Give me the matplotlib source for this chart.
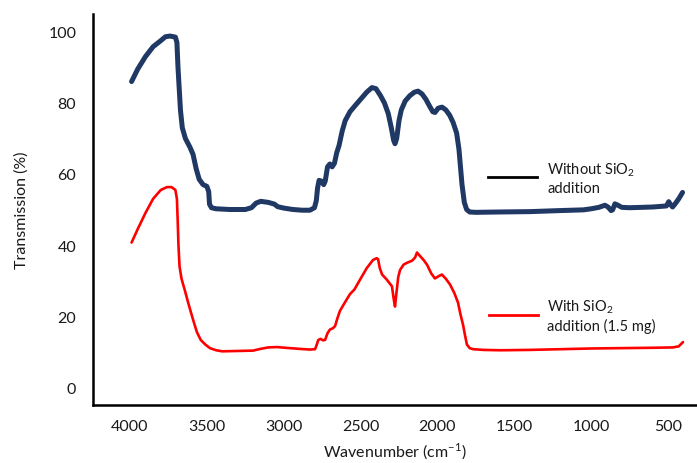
import matplotlib
matplotlib.use("Agg")
import matplotlib.pyplot as plt

plt.rcParams['font.family'] = ['Lato', 'DejaVu Sans']
plt.rcParams['mathtext.fontset'] = 'custom'
plt.rcParams['mathtext.rm'] = 'Lato'

# Widmo bez dodatku SiO2 (liczba falowa, transmisja)
bez_wn = [3990, 3950, 3900, 3850, 3800, 3770, 3740, 3705, 3695, 3688, 3680, 3672,
          3660, 3640, 3610, 3590, 3570, 3550, 3525, 3500, 3488, 3483, 3470, 3440,
          3350, 3250, 3210, 3180, 3150, 3100, 3060, 3040, 3000, 2940, 2880, 2830,
          2800, 2788, 2780, 2770, 2755, 2740, 2730, 2715, 2700, 2685, 2670, 2655,
          2640, 2620, 2600, 2569, 2530, 2500, 2460, 2426, 2400, 2370, 2345, 2320,
          2300, 2285, 2276, 2265, 2250, 2235, 2210, 2180, 2150, 2126, 2100, 2075,
          2050, 2030, 2016, 1995, 1970, 1945, 1920, 1898, 1875, 1860, 1850, 1840,
          1825, 1810, 1790, 1750, 1600, 1400, 1200, 1050, 1000, 950, 910, 890,
          870, 860, 845, 830, 800, 750, 600, 510, 495, 485, 470, 455, 430, 405]
bez_T = [86, 89.5, 93, 95.8, 97.5, 98.6, 98.8, 98.5, 97, 90, 84, 78,
         73, 70, 67.5, 65.5, 61.5, 58.5, 57, 56.5, 55, 51.5, 50.5, 50.2,
         50, 50, 50.5, 51.8, 52.3, 52, 51.5, 50.8, 50.4, 50, 49.8, 49.8,
         50.5, 52.5, 56, 58.2, 58, 57, 58, 62, 62.8, 62, 63, 66,
         68, 72, 75, 77.5, 79.5, 81, 83, 84.3, 84, 82, 80, 77,
         73, 69.5, 68.5, 70, 75, 78, 80.5, 82, 83, 83.3, 82.5, 81,
         79, 77.5, 77.3, 78.5, 78.8, 78, 76.5, 74.5, 71.5, 67, 62, 57,
         52, 50, 49.3, 49.2, 49.3, 49.4, 49.7, 49.9, 50.2, 50.6, 51.2, 50.7,
         49.7, 49.9, 51.6, 51.3, 50.6, 50.5, 50.7, 51, 52.2, 51.5, 50.7, 51.5, 53, 54.8]

# Widmo z dodatkiem SiO2 (1.5 mg)
z_wn = [3990, 3950, 3900, 3850, 3800, 3760, 3730, 3705, 3695, 3690, 3685, 3678,
        3665, 3645, 3620, 3590, 3565, 3540, 3510, 3480, 3440, 3400, 3300, 3200,
        3150, 3100, 3044, 2990, 2900, 2830, 2796, 2785, 2775, 2760, 2745, 2731,
        2715, 2700, 2680, 2666, 2650, 2634, 2600, 2569, 2540, 2503, 2460, 2419,
        2395, 2386, 2375, 2360, 2330, 2296, 2285, 2276, 2268, 2255, 2243, 2220,
        2198, 2165, 2145, 2133, 2115, 2090, 2068, 2040, 2016, 1990, 1971, 1945,
        1918, 1890, 1866, 1850, 1833, 1820, 1808, 1790, 1768, 1700, 1593, 1400,
        1200, 1000, 800, 600, 467, 430, 402]
z_T = [40.7, 44.5, 49, 53, 55.5, 56.3, 56.3, 55.5, 53, 47, 40, 34,
       30.5, 27.5, 23.5, 19, 15.5, 13.3, 12, 11, 10.4, 10.1, 10.2, 10.3,
       10.8, 11.2, 11.3, 11.1, 10.8, 10.6, 10.7, 12, 13.3, 13.6, 13.2, 13.3,
       15.2, 16.2, 16.6, 17.2, 19.5, 21.5, 24, 26.2, 27.5, 30.3, 33.5, 35.8,
       36.3, 36, 33.5, 31.7, 30.3, 28.4, 25, 22.7, 26, 31, 33, 34.5,
       35, 35.6, 36.5, 37.9, 37, 35.8, 34.5, 32, 30.6, 31.3, 31.7, 30.5,
       28.9, 26.5, 23.8, 20.5, 17.5, 14.5, 12, 11, 10.7, 10.5, 10.4, 10.5,
       10.7, 10.9, 11, 11.1, 11.2, 11.5, 12.7]

x_ticks = [4000, 3500, 3000, 2500, 2000, 1500, 1000, 500]
y_ticks = [0, 20, 40, 60, 80, 100]
etykieta_bez = "Without SiO$_2$\naddition"
etykieta_z = "With SiO$_2$\naddition (1.5 mg)"

fig = plt.figure(figsize=(6.97, 4.64), dpi=100)
ax = fig.add_axes([93/697, 58/464, 604/697, 391/464])

ax.plot(bez_wn, bez_T, color='#1f3864', lw=3.6, solid_joinstyle='round', solid_capstyle='round')
ax.plot(z_wn, z_T, color='#ff0000', lw=1.9, solid_joinstyle='round', solid_capstyle='round')

ax.set_xlim(4241, 311)
ax.set_ylim(-5, 105)
ax.set_xticks(x_ticks)
ax.set_yticks(y_ticks)
ax.tick_params(length=0, labelsize=11.5, pad=12, colors='#1a1a1a')
ax.tick_params(axis='x', pad=10)

for s in ['top', 'right']:
    ax.spines[s].set_visible(False)
for s in ['left', 'bottom']:
    ax.spines[s].set_linewidth(1.8)
    ax.spines[s].set_color('black')

ax.set_xlabel("Wavenumber (cm$^{-1}$)", fontsize=11.5, labelpad=6, color='#1a1a1a')
ax.set_ylabel("Transmission (%)", fontsize=11.5, labelpad=14, color='#1a1a1a')

# Legenda rysowana recznie
ax.plot([0.654, 0.735], [0.583, 0.583], transform=ax.transAxes, color='black', lw=2)
ax.text(0.752, 0.581, etykieta_bez, transform=ax.transAxes, fontsize=10.5,
        va='center', ha='left', color='#1a1a1a', linespacing=1.25)
ax.plot([0.656, 0.737], [0.230, 0.230], transform=ax.transAxes, color='#ff0000', lw=2)
ax.text(0.752, 0.230, etykieta_z, transform=ax.transAxes, fontsize=10.5,
        va='center', ha='left', color='#1a1a1a', linespacing=1.25)

fig.savefig("out.png", dpi=100)
